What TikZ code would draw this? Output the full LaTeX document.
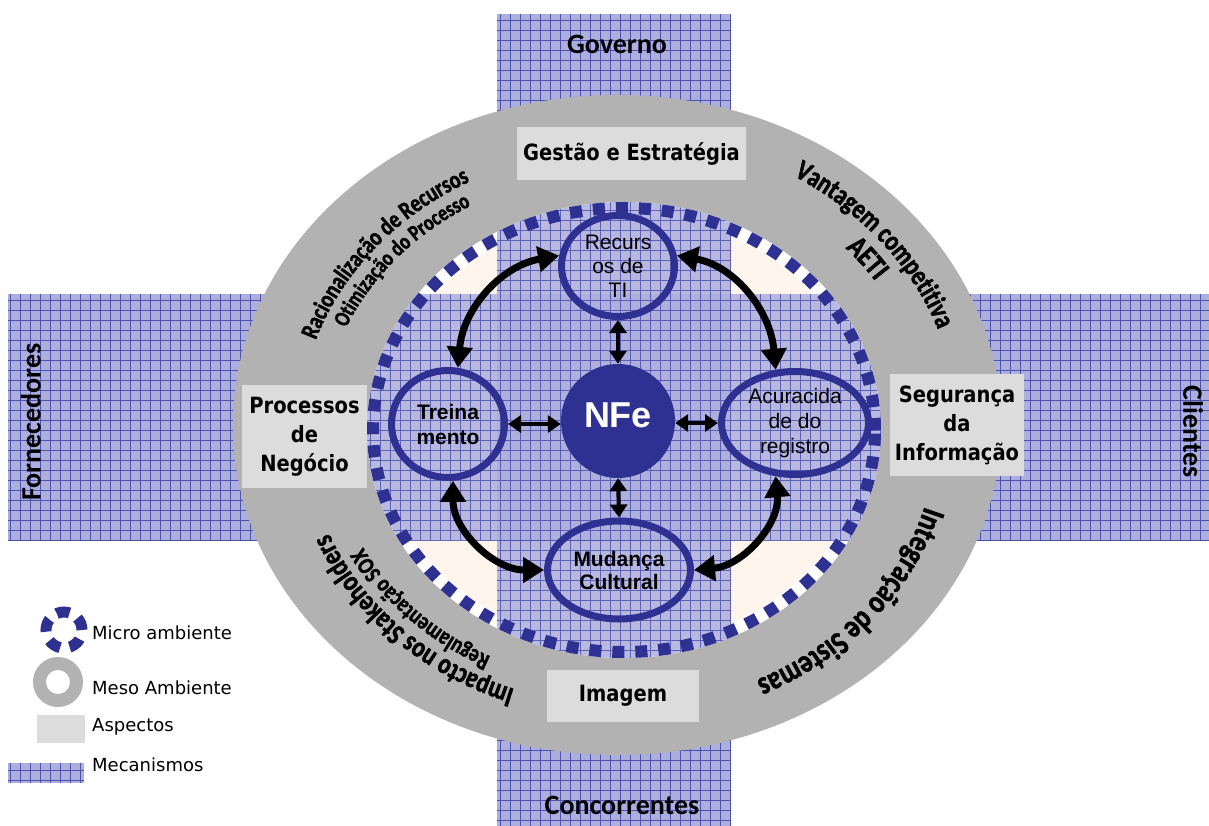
\documentclass[tikz,border=0pt]{standalone}
\usepackage{fontspec}
\setmainfont{DejaVu Sans}
\newfontfamily\carlito{Carlito}
\newfontfamily\ringfont{Carlito}[FakeStretch=0.8,BoldFeatures={FakeBold=1.6}]
\newfontfamily\aspectfont{DejaVu Sans}[FakeStretch=0.87]
\newfontfamily\arialfont{Liberation Sans}
\usetikzlibrary{shapes.geometric,arrows.meta,decorations.text}

\definecolor{navy}{RGB}{46,49,146}
\definecolor{ringgray}{RGB}{178,178,178}
\definecolor{aspectgray}{RGB}{220,220,220}
\definecolor{hatchbg}{RGB}{172,174,220}
\definecolor{hatchline}{RGB}{78,82,174}
\definecolor{peach}{RGB}{255,245,237}

% hatched "mechanism" band: optional opacity, two corners
\newcommand{\hatchbox}[3][1]{%
  \fill[hatchbg,fill opacity=#1] #2 rectangle #3;
  \draw[hatchline,line width=0.55pt,step=10,draw opacity=#1] #2 grid #3;}

% bold text set along an elliptical arc around the ring centre
% #1 size, #2 x radius, #3 y radius, #4 start angle, #5 end angle, #6 text
\newcommand{\ringtext}[6]{%
  \path[decorate,decoration={text along path,text align=center,
      text={|\ringfont\bfseries\fontsize{#1}{#1}\selectfont|#6}}]
    (620,-430) ++(#4:#2 and #3)
    arc[start angle=#4,end angle=#5,x radius=#2,y radius=#3];}

\tikzset{
  inner/.style={ellipse,draw=navy,line width=7pt,inner sep=0pt,align=center,
    font=\arialfont\fontsize{21}{24}\selectfont},
  dblarrow/.style={line width=4pt,
    {Triangle[length=13pt,width=17pt]}-{Triangle[length=13pt,width=17pt]}},
  arcarrow/.style={line width=7pt,
    {Triangle[length=21pt,width=25pt]}-{Triangle[length=21pt,width=25pt]}},
  aspect/.style={fill=aspectgray,inner sep=0pt,align=center,
    font=\aspectfont\bfseries\fontsize{22.4}{29}\selectfont},
  mech/.style={inner sep=0pt,font=\carlito\bfseries\fontsize{28}{28}\selectfont},
  legendtext/.style={anchor=west,inner sep=0pt,font=\fontsize{18}{18}\selectfont},
}

\begin{document}
\begin{tikzpicture}[x=1pt,y=1pt]
\useasboundingbox (0,0) rectangle (1209,-826);

% mechanisms: the cross of hatched bands
\hatchbox{(497,-826)}{(731,-14)}
\hatchbox{(8,-540)}{(1209,-294)}

% meso environment ring
\fill[ringgray] (617,-425) ellipse[x radius=384,y radius=330];

% micro environment
\fill[white] (624,-430) ellipse[x radius=257,y radius=228];
\fill[peach] (624,-430) ellipse[x radius=244,y radius=215];
\begin{scope}
  \clip (624,-430) ellipse[x radius=257,y radius=228];
  \hatchbox[0.85]{(497,-826)}{(731,-14)}
  \hatchbox[0.85]{(8,-540)}{(1209,-294)}
\end{scope}
\draw[navy,line width=12pt,dash pattern=on 12pt off 11pt]
  (624,-430) ellipse[x radius=251,y radius=222];

% mechanism labels
\node[mech] (gov) at (617,-44) {Governo};
\node[mech] (conc) at (622,-805) {Concorrentes};
\node[mech,rotate=90] (forn) at (31,-422) {Fornecedores};
\node[mech,rotate=-90] (cli) at (1193,-432) {Clientes};

% aspects
\node[aspect,minimum width=229pt,minimum height=53pt] (gestao) at (631.5,-153.5) {Gestão e Estratégia};
\node[aspect,minimum width=125pt,minimum height=103pt] (proc) at (304.5,-436.5) {Processos\\de\\Negócio};
\node[aspect,minimum width=134pt,minimum height=102pt] (seg) at (957,-425) {Segurança\\da\\Informação};
\node[aspect,minimum width=152pt,minimum height=52pt] (imagem) at (623,-696) {Imagem};

% texts along the ring
\ringtext{25}{321}{281}{186}{96}{Racionalização de Recursos}
\ringtext{22.5}{298}{259}{185}{95}{Otimização do Processo}
\ringtext{28.5}{338}{296}{83}{-7}{Vantagem competitiva}
\ringtext{30}{307}{268}{72}{2}{AETI}
\ringtext{29}{314}{275}{270}{180}{Impacto nos Stakeholders}
\ringtext{24}{290}{253}{269}{179}{Regulamentação SOX}
\ringtext{32.5}{317}{277}{6}{-84}{Integração de Sistemas}

% centre nodes
\node[circle,fill=navy,minimum size=114pt,inner sep=0pt] (nfe) at (618,-421) {};
\node[text=white,inner sep=0pt,font=\arialfont\bfseries\fontsize{36}{36}\selectfont]
  (nfelabel) at ([yshift=6pt]nfe.center) {NFe};
\node[inner,minimum width=113pt,minimum height=101pt] (rec) at (618,-266) {Recurs\\os de\\TI};
\node[inner,minimum width=113pt,minimum height=107pt,font=\arialfont\bfseries\fontsize{21}{25}\selectfont]
  (tre) at (448,-424) {Treina\\mento};
\node[inner,minimum width=147pt,minimum height=103pt,font=\arialfont\fontsize{21}{25}\selectfont]
  (acu) at (795,-423) {Acuracida\\de do\\registro};
\node[inner,minimum width=143pt,minimum height=98pt,font=\arialfont\bfseries\fontsize{21}{23}\selectfont]
  (mud) at (619,-570) {Mudança\\Cultural};

% links to NFe
\draw[dblarrow] (rec.south) -- (nfe.north);
\draw[dblarrow] (tre.east) -- (tre.east -| nfe.west);
\draw[dblarrow] (acu.west -| nfe.east) -- (acu.west);
\draw[dblarrow] (nfe.south) -- (mud.north);

% outer loop
\draw[arcarrow] (tre.80) to[out=85,in=190] (rec.170);
\draw[arcarrow] (rec.10) to[out=-10,in=95] (acu.110);
\draw[arcarrow] (tre.-85) to[out=-90,in=180] (mud.west);
\draw[arcarrow] (mud.east) to[out=5,in=-85] (acu.250);

% legend
\draw[navy,line width=11pt,dash pattern=on 13pt off 9.6pt] (64,-630) circle[radius=18];
\node[legendtext] (lmicro) at (92,-633) {Micro ambiente};
\draw[ringgray,line width=13pt] (58,-682) circle[radius=18.5];
\node[legendtext] (lmeso) at (92,-688) {Meso Ambiente};
\fill[aspectgray] (37,-715) rectangle (85,-743);
\node[legendtext] (lasp) at (92,-727) {Aspectos};
\hatchbox{(8,-783)}{(84,-763)}
\node[legendtext] (lmec) at (92,-765) {Mecanismos};
\end{tikzpicture}
\end{document}
